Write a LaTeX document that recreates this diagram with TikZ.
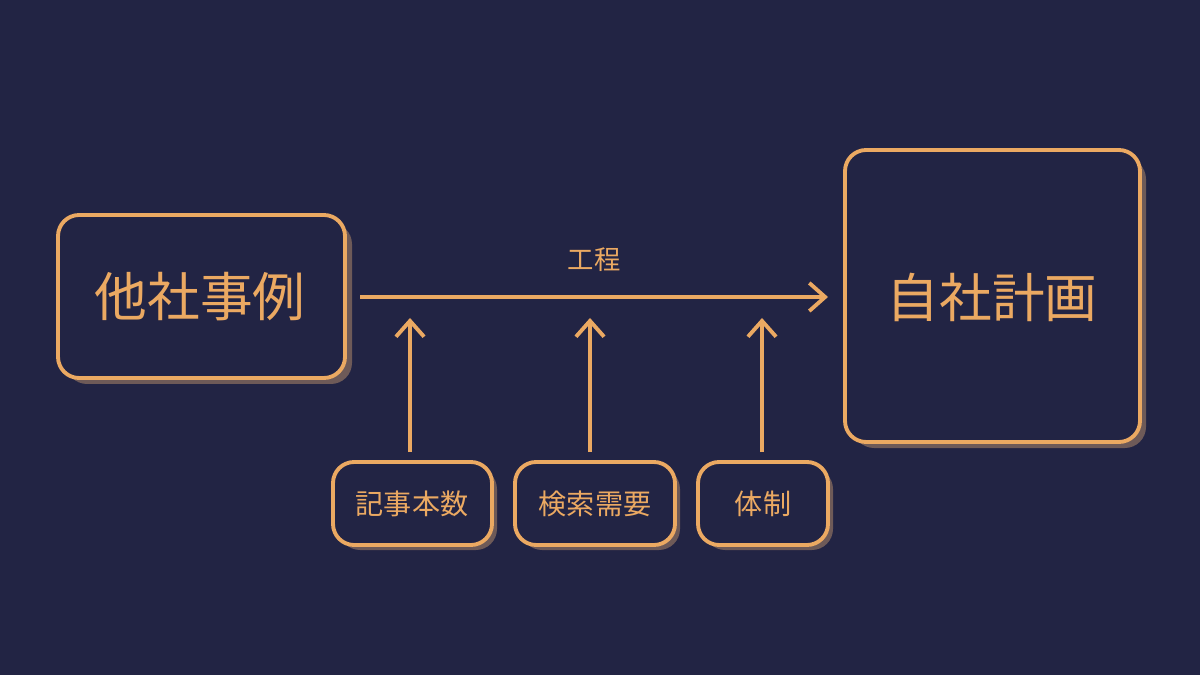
\documentclass[tikz,border=0pt]{standalone}
\usepackage{fontspec}
\setmainfont{Noto Sans CJK JP}
\usetikzlibrary{arrows.meta}
\definecolor{bg}{HTML}{222444}
\definecolor{org}{HTML}{EBA962}
\definecolor{shd}{HTML}{6E5A58}
\begin{document}
\begin{tikzpicture}[x=0.02cm,y=-0.02cm,
  box/.style={draw=org,line width=2.2pt,rounded corners=12pt,fill=bg},
  shadow/.style={fill=shd,rounded corners=12pt},
  arr/.style={draw=org,line width=2.2pt,-{Straight Barb[length=9pt,width=16pt,line width=2.2pt]}},
  txt/.style={text=org}]
\fill[bg] (0,0) rectangle (1200,675);
\useasboundingbox (0,0) rectangle (1200,675);
% shadows
\fill[shadow] (66,223) rectangle (352,384);
\fill[shadow] (853,158) rectangle (1146,448);
\fill[shadow] (339,468) rectangle (497,550);
\fill[shadow] (521,468) rectangle (680,550);
\fill[shadow] (704,468) rectangle (833,550);
% boxes
\draw[box] (58,215) rectangle (345,378);
\draw[box] (845,150) rectangle (1140,442);
\draw[box] (333,462) rectangle (492,545);
\draw[box] (515,462) rectangle (675,545);
\draw[box] (698,462) rectangle (828,545);
\node[txt,font=\fontsize{30}{34}\selectfont] (a) at (200,297) {他社事例};
\node[txt,font=\fontsize{30}{34}\selectfont] (b) at (992,297) {自社計画};
\node[txt,font=\fontsize{16}{20}\selectfont] (c) at (412,504) {記事本数};
\node[txt,font=\fontsize{16}{20}\selectfont] (d) at (595,504) {検索需要};
\node[txt,font=\fontsize{16}{20}\selectfont] (e) at (763,504) {体制};
\coordinate (s) at (360,297);
\coordinate (t) at (828,297);
\draw[arr] (s) -- node[above=10pt,txt,font=\fontsize{15}{18}\selectfont] {工程} (t);
\coordinate (u1) at (410,452); \coordinate (v1) at (410,318);
\coordinate (u2) at (590,452); \coordinate (v2) at (590,318);
\coordinate (u3) at (762,452); \coordinate (v3) at (762,318);
\draw[arr] (u1) -- (v1);
\draw[arr] (u2) -- (v2);
\draw[arr] (u3) -- (v3);
\end{tikzpicture}
\end{document}
